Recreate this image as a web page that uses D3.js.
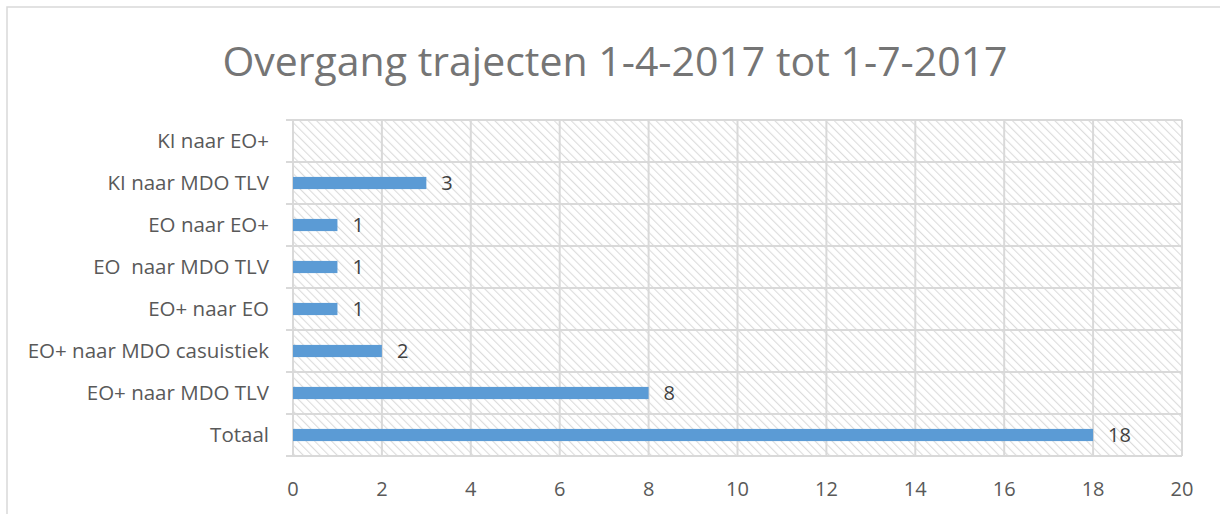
<!DOCTYPE html>
<html>
<head>
<meta charset="utf-8">
<script src="https://cdn.jsdelivr.net/npm/d3@7"></script>
<style>
  body { margin: 0; background: #ffffff; }
  svg { display: block; font-family: "Open Sans", Lato, sans-serif; }
</style>
</head>
<body>
<svg id="chart"></svg>
<script>
const width = 1220, height = 514

const categories = ["KI naar EO+", "KI naar MDO TLV", "EO naar EO+", "EO  naar MDO TLV",
    "EO+ naar EO", "EO+ naar MDO casuistiek", "EO+ naar MDO TLV", "Totaal"]
const values = [null, 3, 1, 1, 1, 2, 8, 18]
const xTicks = [0, 2, 4, 6, 8, 10, 12, 14, 16, 18, 20]
const title = "Overgang trajecten 1-4-2017 tot 1-7-2017"

const margin = {top: 120, right: 38, bottom: 58, left: 293}

const svg = d3.select("svg#chart")
    .attr("width", width)
    .attr("height", height)
    .attr("viewBox", [0, 0, width, height])

// hatch pattern for plot area ("\" direction)
const defs = svg.append("defs")
const pat = defs.append("pattern")
    .attr("id", "hatch")
    .attr("patternUnits", "userSpaceOnUse")
    .attr("width", 6)
    .attr("height", 6)
    .attr("patternTransform", "rotate(-45)")
pat.append("rect").attr("width", 6).attr("height", 6).attr("fill", "#ffffff")
pat.append("line")
    .attr("x1", 0).attr("y1", 0).attr("x2", 0).attr("y2", 6)
    .attr("stroke", "#dcdcdc")
    .attr("stroke-width", 2.2)

// outer chart frame
svg.append("rect")
    .attr("x", 7).attr("y", 7)
    .attr("width", width + 10).attr("height", height + 10)
    .attr("fill", "none")
    .attr("stroke", "#d9d9d9")
    .attr("stroke-width", 1.5)

const x = d3.scaleLinear()
    .domain([0, 20])
    .range([margin.left, width - margin.right])

const y = d3.scaleBand()
    .domain(categories)
    .range([margin.top, height - margin.bottom])
    .paddingInner(0.71)
    .paddingOuter(0.355)

svg.append("rect")
    .attr("x", x(0))
    .attr("y", margin.top)
    .attr("width", x(20) - x(0))
    .attr("height", height - margin.bottom - margin.top)
    .attr("fill", "url(#hatch)")

const grid = svg.append("g")
    .attr("stroke", "#d9d9d9")
    .attr("stroke-width", 2)

// vertical gridlines
grid.selectAll("line.v")
    .data(xTicks)
    .join("line").attr("class", "v")
    .attr("x1", d => x(d)).attr("x2", d => x(d))
    .attr("y1", margin.top).attr("y2", height - margin.bottom)

// horizontal category separators (with small outward ticks)
const step = y.step()
const bounds = d3.range(categories.length + 1).map(i => margin.top + i * step)
grid.selectAll("line.h")
    .data(bounds)
    .join("line").attr("class", "h")
    .attr("x1", x(0) - 7).attr("x2", x(20))
    .attr("y1", d => d).attr("y2", d => d)

const barData = categories.map((c, i) => ({cat: c, value: values[i]})).filter(d => d.value != null)

// bars
svg.append("g")
    .selectAll("rect")
    .data(barData)
    .join("rect")
    .attr("x", x(0))
    .attr("y", d => y(d.cat))
    .attr("width", d => x(d.value) - x(0))
    .attr("height", y.bandwidth())
    .attr("fill", "#5b9bd5")

// value labels
svg.append("g")
    .selectAll("text")
    .data(barData)
    .join("text")
    .attr("x", d => x(d.value) + 15)
    .attr("y", d => y(d.cat) + y.bandwidth() / 2)
    .attr("dy", "0.35em")
    .attr("fill", "#404040")
    .attr("font-size", 20)
    .text(d => d.value)

// category labels
svg.append("g")
    .selectAll("text")
    .data(categories)
    .join("text")
    .attr("x", 269)
    .attr("y", d => y(d) + y.bandwidth() / 2)
    .attr("dy", "0.35em")
    .attr("text-anchor", "end")
    .attr("fill", "#595959")
    .attr("font-size", 20.5)
    .style("white-space", "pre")
    .text(d => d)

// x tick labels
svg.append("g")
    .selectAll("text")
    .data(xTicks)
    .join("text")
    .attr("x", d => x(d))
    .attr("y", 489)
    .attr("dy", "0.35em")
    .attr("text-anchor", "middle")
    .attr("fill", "#595959")
    .attr("font-size", 20)
    .text(d => d)

// title
svg.append("text")
    .attr("x", 615)
    .attr("y", 76)
    .attr("text-anchor", "middle")
    .attr("fill", "#757575")
    .attr("font-size", 41)
    .text(title)
</script>
</body>
</html>
